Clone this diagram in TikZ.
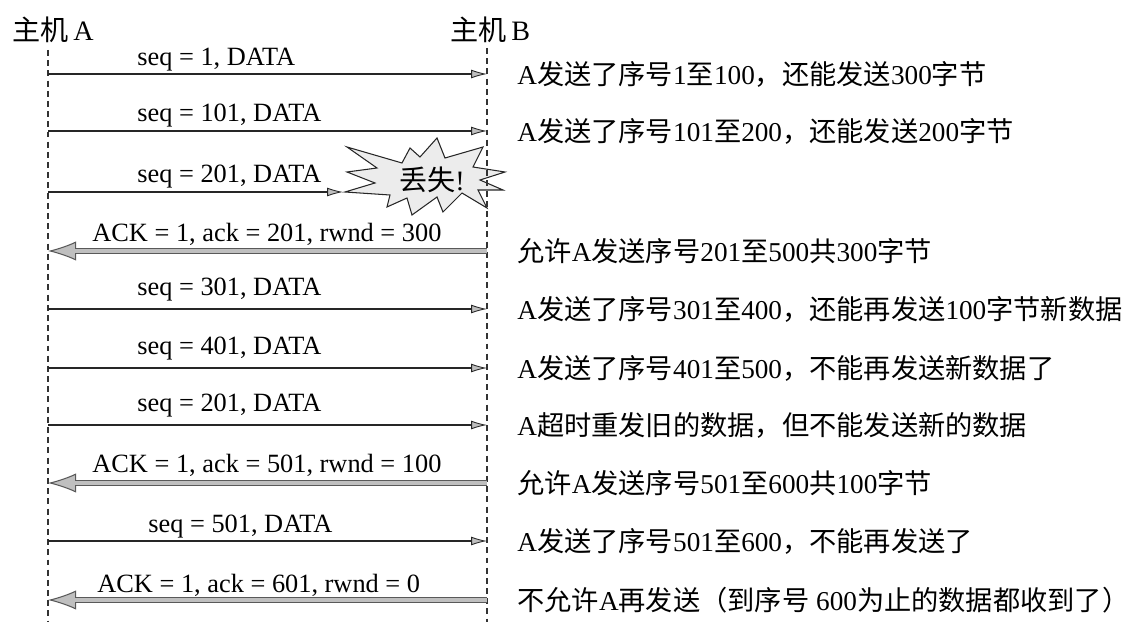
\documentclass[tikz,border=0pt]{standalone}
\usepackage{fontspec}
\setmainfont{Liberation Serif}
\newfontfamily\cjk{Noto Sans CJK SC}
\usetikzlibrary{arrows.meta, positioning}
\tikzstyle{every node}=[font=\fontsize{15}{18}\selectfont, inner sep=0pt]
\tikzstyle{lifeline}=[draw=black!80, line width=0.7pt, dash pattern=on 3.4pt off 2.4pt]
\tikzstyle{msg}=[draw=black!85, line width=0.6pt, -{Latex[length=9pt,width=5pt,line width'=0.5pt,fill=gray!50]}]
\tikzstyle{ack}=[draw=black!65, line width=3.4pt, -{Latex[length=16pt,width=11pt,line width'=0.6pt,fill=gray!50]}, postaction={draw=gray!50, line width=2pt, -, shorten >=14pt}]
\tikzstyle{note}=[font=\fontsize{15.5}{19}\selectfont, right=0.6cm of #1]
\tikzstyle{host}=[font=\fontsize{16}{19}\selectfont, anchor=west]
\tikzstyle{burst}=[draw=black!85, line width=0.6pt, fill=gray!15]
\newcommand{\zh}[1]{{\cjk #1}}

\begin{document}
\begin{tikzpicture}[x=0.02cm, y=-0.02cm]
    \useasboundingbox (0,0) rectangle (1143,631);
    \node[host] (hA) at (12,30) {\zh{主机}\,A};
    \node[host] (hB) at (450,30) {\zh{主机}\,B};
    % end points on both sides
    \coordinate (a1) at (48,74);   \coordinate (b1) at (487,74);
    \coordinate (a2) at (48,131);  \coordinate (b2) at (487,131);
    \coordinate (a3) at (48,192);  \coordinate (b3) at (487,192);
    \coordinate (a4) at (48,251);  \coordinate (b4) at (487,251);
    \coordinate (a5) at (48,309);  \coordinate (b5) at (487,309);
    \coordinate (a6) at (48,368);  \coordinate (b6) at (487,368);
    \coordinate (a7) at (48,425);  \coordinate (b7) at (487,425);
    \coordinate (a8) at (48,483);  \coordinate (b8) at (487,483);
    \coordinate (a9) at (48,541);  \coordinate (b9) at (487,541);
    \coordinate (a10) at (48,600); \coordinate (b10) at (487,600);
    \coordinate (lost) at (343,192);
    % the lost segment
    \draw[burst] (345,192) -- (375,183) -- (347,172) -- (377,168) -- (347,147) -- (402,163)
        -- (410,148) -- (420,157) -- (437,138) -- (445,158) -- (483,147) -- (473,167)
        -- (505,172) -- (480,180) -- (503,190) -- (478,190) -- (487,208) -- (462,193)
        -- (443,212) -- (437,197) -- (412,215) -- (407,198) -- (387,207) -- (390,195) -- cycle;
    \node[font=\fontsize{16}{19}\selectfont] (lostlbl) at (432,180) {\zh{丢失}!};
    \draw[lifeline] (48,50) -- (48,622);
    \draw[lifeline] (487,48) -- (487,622);
    % segments and labels
    \node[anchor=base west] (l1) at (137,66) {seq = 1, DATA};
    \node[anchor=base west] (l2) at (137,122) {seq = 101, DATA};
    \node[anchor=base west] (l3) at (137,183) {seq = 201, DATA};
    \node[anchor=base west] (l4) at (92,242) {ACK = 1, ack = 201, rwnd = 300};
    \node[anchor=base west] (l5) at (137,296) {seq = 301, DATA};
    \node[anchor=base west] (l6) at (137,355) {seq = 401, DATA};
    \node[anchor=base west] (l7) at (137,412) {seq = 201, DATA};
    \node[anchor=base west] (l8) at (92,473) {ACK = 1, ack = 501, rwnd = 100};
    \node[anchor=base west] (l9) at (148,532) {seq = 501, DATA};
    \node[anchor=base west] (l10) at (97,592) {ACK = 1, ack = 601, rwnd = 0};
    \draw[msg] (a1) -- (b1);
    \draw[msg] (a2) -- (b2);
    \draw[msg] (a3) -- (lost);
    \draw[ack] (b4) -- (a4);
    \draw[msg] (a5) -- (b5);
    \draw[msg] (a6) -- (b6);
    \draw[msg] (a7) -- (b7);
    \draw[ack] (b8) -- (a8);
    \draw[msg] (a9) -- (b9);
    \draw[ack] (b10) -- (a10);
    % notes on the right
    \node[note=b1] (n1) {A\zh{发送了序号}1\zh{至}100\zh{，还能发送}300\zh{字节}};
    \node[note=b2] (n2) {A\zh{发送了序号}101\zh{至}200\zh{，还能发送}200\zh{字节}};
    \node[note=b4] (n4) {\zh{允许}A\zh{发送序号}201\zh{至}500\zh{共}300\zh{字节}};
    \node[note=b5] (n5) {A\zh{发送了序号}301\zh{至}400\zh{，还能再发送}100\zh{字节新数据}};
    \node[note=b6] (n6) {A\zh{发送了序号}401\zh{至}500\zh{，不能再发送新数据了}};
    \node[note=b7] (n7) {A\zh{超时重发旧的数据，但不能发送新的数据}};
    \node[note=b8] (n8) {\zh{允许}A\zh{发送序号}501\zh{至}600\zh{共}100\zh{字节}};
    \node[note=b9] (n9) {A\zh{发送了序号}501\zh{至}600\zh{，不能再发送了}};
    \node[note=b10] (n10) {\zh{不允许}A\zh{再发送（到序号} 600\zh{为止的数据都收到了）}};
\end{tikzpicture}
\end{document}
